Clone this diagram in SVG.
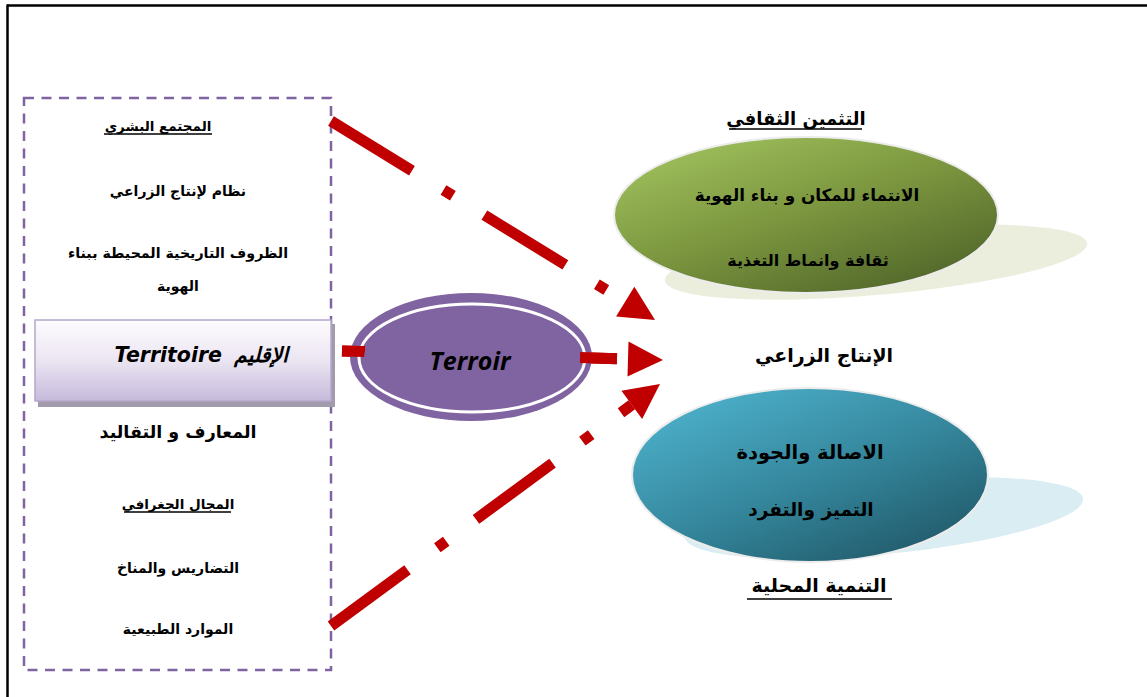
<svg xmlns="http://www.w3.org/2000/svg" width="1147" height="697" viewBox="0 0 1147 697">
  <style>
    .ar { font-family: "DejaVu Sans", "Noto Sans", sans-serif; font-weight: bold; fill: #000; text-anchor: middle; }
    .lat { font-family: "DejaVu Sans", "Liberation Sans", sans-serif; font-weight: bold; font-style: italic; fill: #000; }
    .ul { stroke: #000; stroke-width: 1.3; }
    .conn { fill: none; stroke: #c00000; stroke-width: 11; stroke-dasharray: 95 37 11 37; stroke-linecap: butt; }
  </style>
  <defs>
    <marker id="head" markerUnits="userSpaceOnUse" markerWidth="40" markerHeight="40" refX="0" refY="0" viewBox="0 -20 40 40" orient="auto" overflow="visible">
      <path d="M0,-17.5 L35,0 L0,17.5 Z" fill="#c00000"/>
    </marker>
    <linearGradient id="gTerr" x1="0" y1="0" x2="0" y2="1">
      <stop offset="0" stop-color="#fdfcfe"/>
      <stop offset="0.5" stop-color="#ebe5f2"/>
      <stop offset="1" stop-color="#c6badb"/>
    </linearGradient>
    <linearGradient id="gGreen" x1="0.15" y1="0.1" x2="0.85" y2="0.95">
      <stop offset="0" stop-color="#9cbc5a"/>
      <stop offset="0.45" stop-color="#7c973f"/>
      <stop offset="1" stop-color="#51662a"/>
    </linearGradient>
    <linearGradient id="gBlue" x1="0.15" y1="0.1" x2="0.85" y2="0.95">
      <stop offset="0" stop-color="#4badc7"/>
      <stop offset="0.5" stop-color="#35879d"/>
      <stop offset="1" stop-color="#215a6a"/>
    </linearGradient>
  </defs>

  <rect x="0" y="0" width="1147" height="697" fill="#fff"/>

  <!-- page frame -->
  <g id="frame" stroke="#000" fill="none">
    <line x1="7" y1="5.5" x2="1147" y2="5.5" stroke-width="2.5"/>
    <line x1="7.5" y1="4.5" x2="7.5" y2="697" stroke-width="2.5"/>
  </g>

  <!-- left panel: territory factors -->
  <g id="territory-panel">
    <rect x="24" y="98" width="307" height="572" fill="none" stroke="#8064a2" stroke-width="2.5" stroke-dasharray="10 7.5"/>
    <text class="ar" x="158" y="131" font-size="13.5">المجتمع البشري</text>
    <line class="ul" x1="104" y1="134" x2="212" y2="134"/>
    <text class="ar" x="178" y="196" font-size="14">نظام لإنتاج الزراعي</text>
    <text class="ar" x="178" y="258" font-size="14.2">الظروف التاريخية المحيطة ببناء</text>
    <text class="ar" x="178" y="291" font-size="14">الهوية</text>
    <text class="ar" x="178" y="438" font-size="17.5">المعارف و التقاليد</text>
    <text class="ar" x="178" y="509" font-size="13.5">المجال الجغرافي</text>
    <line class="ul" x1="124" y1="512" x2="231" y2="512"/>
    <text class="ar" x="178" y="573" font-size="14">التضاريس والمناخ</text>
    <text class="ar" x="178" y="634" font-size="14">الموارد الطبيعية</text>
  </g>

  <!-- Territoire banner -->
  <g id="territoire">
    <rect x="38" y="324" width="297" height="83" fill="#a29bab"/>
    <rect x="35" y="320" width="296" height="81" fill="url(#gTerr)" stroke="#b5a7cb" stroke-width="1.5"/>
    <text class="lat" x="222" y="362" font-size="20.5" text-anchor="end">Territoire</text>
    <text class="ar" x="261" y="362" font-size="20.5" font-style="italic">الإقليم</text>
  </g>

  <!-- connectors -->
  <g id="connectors">
    <path class="conn" d="M331,121 L625.2,301.6" marker-end="url(#head)"/>
    <path class="conn" d="M342,351 L628,359" marker-end="url(#head)"/>
    <path class="conn" d="M331,626 L631.8,404.8" marker-end="url(#head)"/>
  </g>

  <!-- cultural valorisation -->
  <g id="cultural">
    <ellipse cx="876" cy="262" rx="212" ry="33" transform="rotate(-5 876 262)" fill="#ebeedd"/>
    <ellipse cx="806" cy="215" rx="192" ry="78" fill="url(#gGreen)" stroke="#ececec" stroke-width="2"/>
    <text class="ar" x="807" y="201" font-size="16.8">الانتماء للمكان و بناء الهوية</text>
    <text class="ar" x="808" y="266" font-size="16">ثقافة وانماط التغذية</text>
    <text class="ar" x="796" y="125" font-size="18">التثمين الثقافي</text>
    <line class="ul" x1="729" y1="129" x2="862" y2="129" stroke-width="1.6"/>
  </g>

  <!-- agricultural production -->
  <g id="production">
    <text class="ar" x="824" y="362" font-size="19">الإنتاج الزراعي</text>
  </g>

  <!-- local development -->
  <g id="development">
    <ellipse cx="884" cy="518" rx="200" ry="36" transform="rotate(-5.5 884 518)" fill="#daedf3"/>
    <ellipse cx="810" cy="475" rx="178" ry="87" fill="url(#gBlue)" stroke="#ececec" stroke-width="2"/>
    <text class="ar" x="810" y="459" font-size="19.5">الاصالة والجودة</text>
    <text class="ar" x="811" y="516" font-size="18.5">التميز والتفرد</text>
    <text class="ar" x="819" y="592" font-size="19">التنمية المحلية</text>
    <line class="ul" x1="747" y1="599" x2="892" y2="599" stroke-width="1.6"/>
  </g>

  <!-- Terroir ellipse; the middle connector stays visible over its rim -->
  <g id="terroir">
    <ellipse cx="471" cy="357" rx="121" ry="64" fill="#8064a2"/>
    <ellipse cx="472" cy="358" rx="113" ry="54" fill="none" stroke="#fff" stroke-width="3"/>
    <path d="M342,351 L365,351.6 M580,357.6 L617,358.7" stroke="#c00000" stroke-width="11" fill="none"/>
    <ellipse cx="472" cy="358" rx="108" ry="51" fill="#8064a2"/>
    <text x="470" y="370" font-family="'Open Sans', 'DejaVu Sans', sans-serif" font-weight="bold" font-style="italic" font-size="25" text-anchor="middle" fill="#000">Terroir</text>
  </g>
</svg>
